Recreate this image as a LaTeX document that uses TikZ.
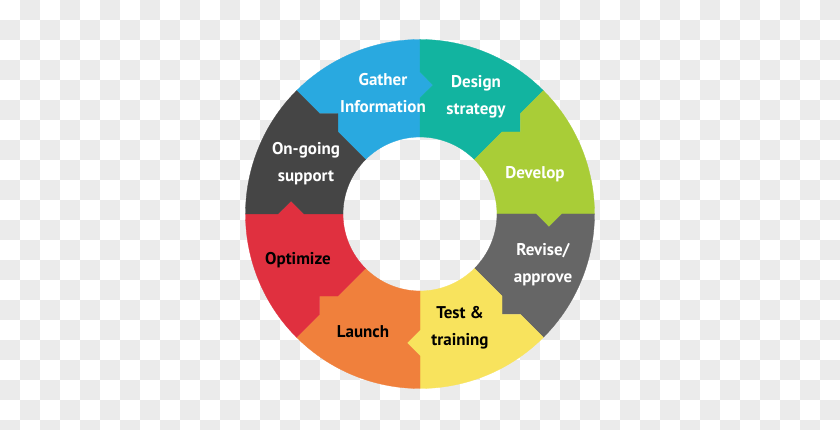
\documentclass[tikz,border=0pt]{standalone}
\usepackage{fontspec}
\setmainfont{PT Sans}
\definecolor{cBlue}{HTML}{29A9E0}
\definecolor{cTeal}{HTML}{12B4A0}
\definecolor{cGreen}{HTML}{A9CD37}
\definecolor{cGrey}{HTML}{666666}
\definecolor{cYellow}{HTML}{F8E35D}
\definecolor{cOrange}{HTML}{F0803C}
\definecolor{cRed}{HTML}{E0303F}
\definecolor{cDark}{HTML}{454545}
\definecolor{cChk}{HTML}{EBEBEB}
\begin{document}
\begin{tikzpicture}[x=1pt, y=1pt, every node/.style={font=\fontsize{17}{27}\selectfont\bfseries, align=center}]
  \tikzstyle{wht}=[text=white]
  \tikzstyle{blk}=[text=black]
  \useasboundingbox (-420,-216) rectangle (420,214);
  \clip (-420,-216) rectangle (420,214);
  % checkered backdrop, two rows per pass
  \fill[white] (-420,-216) rectangle (420,214);
  \foreach \r in {0,2,...,20}
    \foreach \k in {0,2,...,40}
      {\fill[cChk] (-400+20*\k, 214-20*\r) rectangle ++(20,-20);
       \fill[cChk] (-420+20*\k, 194-20*\r) rectangle ++(20,-20);}
  % ring segments, tip at the clockwise end
  \foreach \a/\col in {135/cBlue, 90/cTeal, 45/cGreen, 0/cGrey, -45/cYellow, -90/cOrange, -135/cRed, 180/cDark}
    \filldraw[fill=\col, draw=\col, line width=0.3pt]
      (\a:174.5) arc[start angle=\a, end angle=\a-45, radius=174.5]
      -- (\a-45:142) -- (\a-50.755:129.65) -- (\a-45:116) -- (\a-45:77)
      arc[start angle=\a-45, end angle=\a, radius=77]
      -- (\a:116) -- (\a-5.755:129.65) -- (\a:142) -- cycle;
  \node[wht] (gather)  at (-37, 121) {Gather\\Information};
  \node[wht] (design)  at (56, 117)  {Design\\strategy};
  \node[wht] (develop) at (115, 40)  {Develop};
  \node[wht] (revise)  at (123, -51) {Revise/\\approve};
  \node[blk] (test)    at (40, -114) {Test \&\\training};
  \node[blk] (launch)  at (-57, -118) {Launch};
  \node[blk] (optim)   at (-122, -46) {Optimize};
  \node[wht] (ongoing) at (-114, 50) {On-going\\support};
\end{tikzpicture}
\end{document}
